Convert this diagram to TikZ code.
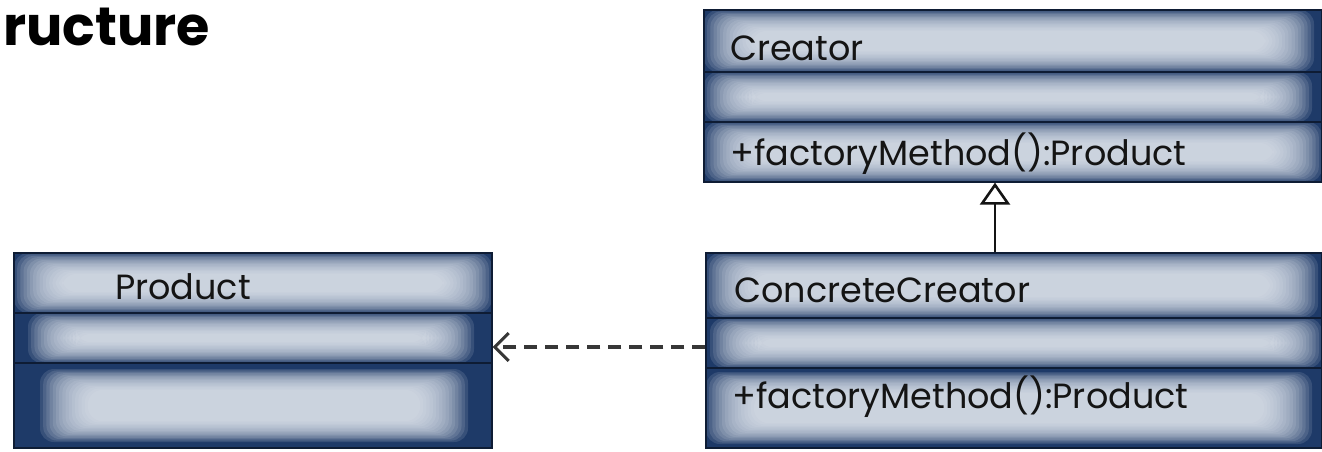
\documentclass[tikz,border=0pt]{standalone}
\usepackage{fontspec}
\setmainfont{Poppins}
\usetikzlibrary{arrows.meta}
\definecolor{boxdark}{RGB}{30,58,104}
\definecolor{boxlight}{RGB}{228,233,241}
\definecolor{divline}{RGB}{14,28,52}
\definecolor{inkc}{RGB}{20,20,20}
\newcommand\comp[8]{%
  \fill[boxdark] (#1,#2) rectangle (#3,#4);
  \foreach \k in {0,...,15}{
    \fill[boxlight, opacity=0.13, rounded corners=14pt]
      ({#1+#5+\k*3.2},{#2+#7+\k*1.4}) rectangle ({#3-#6-\k*3.2},{#4-#8-\k*1.4});
  }
}
\begin{document}
\begin{tikzpicture}[x=1pt,y=-1pt,
  box/.style={inner sep=0pt, draw=divline, line width=1.2pt},
  divider/.style={divline, line width=2.2pt},
  lbl/.style={anchor=west, inner sep=0pt, text=inkc, font=\fontsize{35}{37}\selectfont},
  inh/.style={line width=2.8pt, draw=inkc, -{Triangle[open, length=22pt, width=30pt, line width=2.6pt]}},
  dep/.style={line width=4pt, draw=inkc!85, dash pattern=on 13pt off 8pt, -{Straight Barb[length=14pt, width=28pt, line width=3pt]}}
]
\useasboundingbox (0,0) rectangle (1322,451);

% title fragment
\node[anchor=west, inner sep=0pt, font=\fontsize{54}{58}\selectfont\bfseries] (title) at (3,27) {ructure};

% Creator
\comp{704}{10}{1322}{72}{0}{8}{0}{0}
\comp{704}{72}{1322}{122}{0}{10}{0}{0}
\comp{704}{122}{1322}{182}{0}{0}{0}{0}
\node[box, minimum width=618pt, minimum height=172pt] (creator) at (1013,96) {};
\draw[divider] (704,72) -- (1322,72);
\draw[divider] (704,122) -- (1322,122);
\node[lbl] (creatorname) at (730,48) {Creator};
\node[lbl] (creatorop) at (730,154) {+factoryMethod():Product};

% Product
\comp{14}{253}{492}{313}{0}{0}{0}{0}
\comp{14}{313}{492}{363}{14}{18}{0}{0}
\comp{14}{363}{492}{448}{26}{24}{6}{6}
\node[box, minimum width=478pt, minimum height=195pt] (product) at (253,350.5) {};
\draw[divider] (14,313) -- (492,313);
\draw[divider] (14,363) -- (492,363);
\node[lbl] (productname) at (115,287) {Product};

% ConcreteCreator
\comp{706}{253}{1322}{318}{0}{4}{0}{0}
\comp{706}{318}{1322}{368}{4}{0}{0}{0}
\comp{706}{368}{1322}{448}{0}{10}{4}{4}
\node[box, minimum width=616pt, minimum height=195pt] (cc) at (1014,350.5) {};
\draw[divider] (706,318) -- (1322,318);
\draw[divider] (706,368) -- (1322,368);
\node[lbl] (ccname) at (734,290) {ConcreteCreator};
\node[lbl] (ccop) at (732,397) {+factoryMethod():Product};

% connectors
\coordinate (inhx) at (995,0);
\coordinate (depy) at (0,347);
\draw[inh] (cc.north -| inhx) -- (creator.south -| inhx);
\draw[dep] (cc.west |- depy) -- (product.east |- depy);
\end{tikzpicture}
\end{document}
